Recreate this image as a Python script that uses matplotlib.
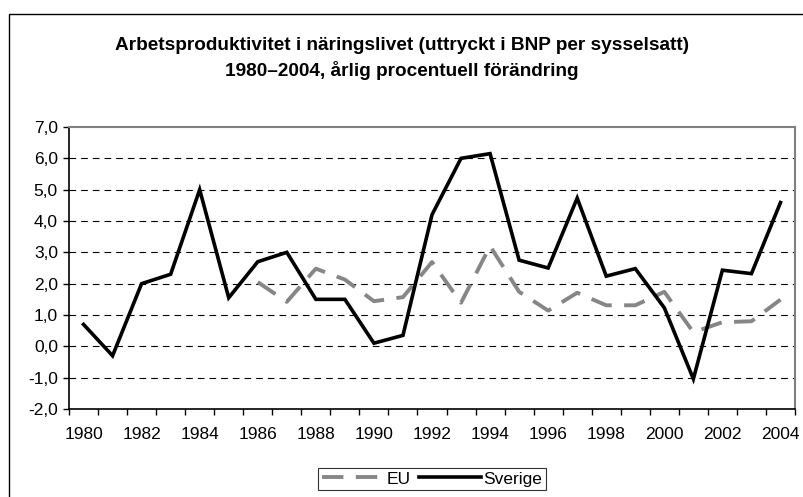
import numpy as np
import matplotlib
matplotlib.use('Agg')
import matplotlib.pyplot as plt
from matplotlib.patches import Rectangle

plt.rcParams['font.family'] = ['Liberation Sans', 'DejaVu Sans']

# Data
years = list(range(1980, 2005))
sverige = [0.7, -0.3, 2.0, 2.3, 5.0, 1.55, 2.7, 3.0, 1.5, 1.5, 0.1, 0.35,
           4.2, 6.0, 6.15, 2.75, 2.5, 4.73, 2.24, 2.48, 1.23, -1.04, 2.43, 2.32, 4.59]
eu_years = list(range(1986, 2005))
eu = [2.05, 1.42, 2.48, 2.13, 1.44, 1.57, 2.69, 1.39, 3.2, 1.74, 1.14, 1.71,
      1.31, 1.31, 1.74, 0.45, 0.77, 0.8, 1.49]
yticks = [-2, -1, 0, 1, 2, 3, 4, 5, 6, 7]

W, H = 804, 497
fig = plt.figure(figsize=(W / 100, H / 100), dpi=100, facecolor='white')

# outer chart frame
fig.patches.append(Rectangle((9.5 / W, -0.05), 1.2, 1 - 14 / H + 0.05,
                             transform=fig.transFigure, fill=False,
                             edgecolor='black', linewidth=1.0))

ax = fig.add_axes([69 / W, 1 - 409 / H, (795 - 69) / W, (409 - 127) / H])

x_sv = np.arange(len(years))
x_eu = np.array([years.index(y) for y in eu_years])

ax.plot(x_eu, eu, color='#868686', linewidth=2.8, linestyle=(0, (5.5, 3.2)),
        label='EU', zorder=3)
ax.plot(x_sv, sverige, color='black', linewidth=2.6, label='Sverige', zorder=4,
        solid_joinstyle='miter')

ax.set_xlim(-0.5, len(years) - 0.5)
ax.set_ylim(-2, 7)

# y axis
ax.set_yticks(yticks)
ax.set_yticklabels([f'{v:.1f}'.replace('.', ',') for v in yticks], fontsize=12.5)
for v in yticks[1:-1]:
    ax.axhline(v, color='black', linewidth=0.8, linestyle=(0, (6, 4.5)), zorder=1)
ax.tick_params(axis='y', direction='out', length=4, width=1, pad=4)

# x axis: tick marks between categories, labels every other year
ax.set_xticks(np.arange(-0.5, len(years), 1.0))
ax.set_xticklabels([])
ax.set_xticks(x_sv[::2], minor=True)
ax.set_xticklabels([str(y) for y in years[::2]], minor=True, fontsize=12.5)
ax.tick_params(axis='x', which='major', direction='out', length=4, width=1)
ax.tick_params(axis='x', which='minor', length=0, pad=13)

for s in ['left', 'bottom']:
    ax.spines[s].set_color('black')
    ax.spines[s].set_linewidth(1.2)
for s in ['top', 'right']:
    ax.spines[s].set_color('#808080')
    ax.spines[s].set_linewidth(1.5)

fig.text(0.5, 1 - 45 / H, 'Arbetsproduktivitet i näringslivet (uttryckt i BNP per sysselsatt)',
         ha='center', va='center', fontsize=13.7, fontweight='bold')
fig.text(0.5, 1 - 71 / H, '1980–2004, årlig procentuell förändring',
         ha='center', va='center', fontsize=13.7, fontweight='bold')

leg = fig.legend(loc='center', bbox_to_anchor=(432 / W, 1 - 479 / H), ncol=2,
                 fontsize=12.5, frameon=True, fancybox=False, handlelength=3.6,
                 handletextpad=0.1, columnspacing=0.5, borderpad=0.2,
                 borderaxespad=0)
leg.get_frame().set_edgecolor('black')
leg.get_frame().set_linewidth(0.8)

plt.savefig('out.png', dpi=100, facecolor='white')
